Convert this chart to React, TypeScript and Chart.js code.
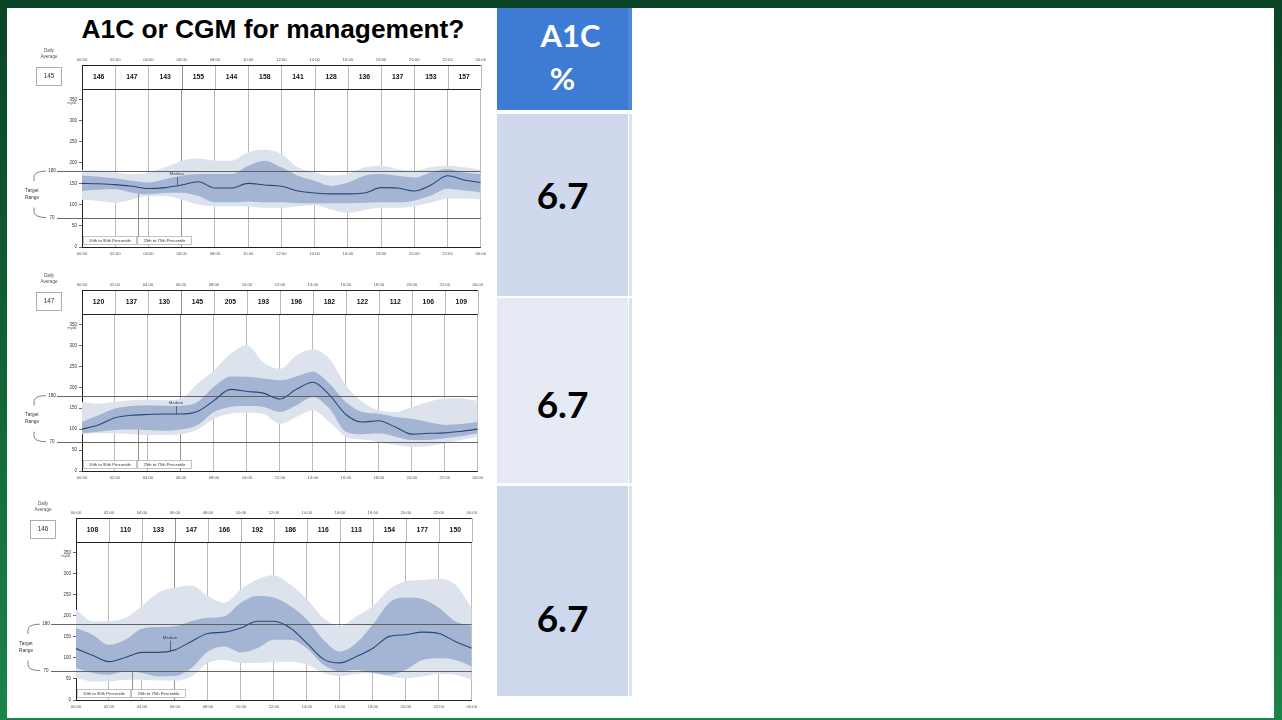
import React, { useEffect, useRef } from "react";
import { Chart, registerables } from "chart.js";

Chart.register(...registerables);

// ---------- data ----------
const HOURS = [0, 1, 2, 3, 4, 5, 6, 7, 8, 9, 10, 11, 12, 13, 14, 15, 16, 17, 18, 19, 20, 21, 22, 23, 24];
const TICK_HOURS = [0, 2, 4, 6, 8, 10, 12, 14, 16, 18, 20, 22, 24];
const TIME_LABELS = ["00:00", "02:00", "04:00", "06:00", "08:00", "10:00", "12:00", "14:00", "16:00", "18:00", "20:00", "22:00", "00:00"];
const Y_TICKS = [0, 50, 100, 150, 200, 250, 300, 350];
const TARGET_LOW = 70;
const TARGET_HIGH = 180;
const Y_MAX = 375;

const A1C_VALUES = ["6.7", "6.7", "6.7"];

// Profile 1
const C1_DAILY_AVG = 145;
const C1_BIN_AVG = [146, 147, 143, 155, 144, 158, 141, 128, 136, 137, 153, 157];
const C1_P90 = [183, 181, 177, 173, 177, 189, 205, 210, 205, 205, 225, 231, 221, 189, 177, 169, 173, 189, 193, 185, 181, 189, 193, 189, 183];
const C1_P75 = [169, 167, 163, 157, 153, 161, 169, 173, 173, 173, 193, 205, 189, 169, 157, 145, 153, 169, 173, 169, 165, 177, 185, 177, 173];
const C1_P50 = [151, 150, 148, 144, 139, 141, 147, 155, 140, 140, 151, 147, 144, 133, 128, 126, 126, 128, 141, 140, 133, 147, 169, 159, 153];
const C1_P25 = [133, 136, 137, 129, 125, 128, 129, 121, 106, 106, 108, 106, 106, 104, 104, 104, 104, 105, 106, 106, 110, 122, 138, 134, 130];
const C1_P10 = [112, 109, 105, 113, 121, 121, 113, 101, 97, 97, 96, 93, 93, 97, 99, 89, 81, 88, 93, 93, 97, 105, 115, 115, 113];

// Profile 2
const C2_DAILY_AVG = 147;
const C2_BIN_AVG = [120, 137, 130, 145, 205, 193, 196, 182, 122, 112, 106, 109];
const C2_P90 = [165, 161, 165, 169, 171, 169, 173, 209, 240, 280, 300, 260, 244, 276, 290, 268, 205, 165, 145, 141, 153, 165, 173, 173, 167];
const C2_P75 = [117, 133, 149, 155, 157, 156, 156, 165, 201, 226, 225, 221, 217, 226, 237, 209, 165, 141, 137, 129, 125, 117, 110, 112, 117];
const C2_P50 = [100, 110, 127, 133, 135, 136, 136, 142, 168, 195, 190, 186, 172, 195, 212, 182, 135, 117, 120, 105, 88, 90, 91, 95, 100];
const C2_P25 = [91, 94, 98, 99, 98, 96, 99, 110, 141, 153, 155, 153, 141, 157, 177, 149, 94, 88, 90, 82, 74, 74, 78, 83, 90];
const C2_P10 = [88, 90, 90, 88, 86, 86, 88, 99, 125, 137, 139, 136, 113, 129, 145, 117, 82, 75, 70, 62, 58, 60, 66, 74, 82];

// Profile 3
const C3_DAILY_AVG = 146;
const C3_BIN_AVG = [108, 110, 133, 147, 166, 192, 186, 116, 113, 154, 177, 150];
const C3_P90 = [215, 187, 187, 195, 223, 255, 267, 272, 247, 231, 263, 286, 296, 274, 239, 195, 175, 199, 223, 263, 282, 285, 288, 274, 219];
const C3_P75 = [171, 155, 131, 143, 169, 173, 175, 187, 195, 199, 231, 247, 243, 223, 191, 143, 115, 135, 179, 231, 243, 240, 219, 187, 175];
const C3_P50 = [122, 106, 91, 101, 113, 113, 119, 139, 158, 161, 171, 187, 187, 171, 135, 97, 88, 103, 123, 151, 155, 161, 158, 139, 123];
const C3_P25 = [76, 64, 60, 68, 64, 56, 57, 76, 115, 127, 113, 123, 143, 143, 123, 84, 68, 72, 64, 60, 72, 95, 99, 95, 80];
const C3_P10 = [52, 44, 44, 48, 48, 46, 46, 56, 88, 95, 88, 88, 91, 91, 84, 64, 57, 62, 64, 56, 52, 56, 62, 60, 48];

const MEDIAN_LABEL_HOUR = 5.7;

// ---------- styles ----------
const OUTER = "#dde3ed";
const INNER = "#a3b5d3";
const MEDIAN = "#284778";
const FONT = "'Liberation Sans', Arial, sans-serif";

const PAD_L = 62;
const PAD_R = 7;
const PAD_T = 44;
const PAD_B = 18;
const Y_AXIS_W = 20;
const X_AXIS_H = 12;

function interp(arr: number[], h: number) {
  const i = Math.floor(h);
  const f = h - i;
  if (i >= arr.length - 1) return arr[arr.length - 1];
  return arr[i] * (1 - f) + arr[i + 1] * f;
}

type AGPProps = {
  plotLeft: number;
  plotTop: number;
  plotW: number;
  plotH: number;
  dailyAvg: number;
  binAvg: number[];
  p10: number[];
  p25: number[];
  p50: number[];
  p75: number[];
  p90: number[];
  medianLabelValue: number;
};

function AGPChart(props: AGPProps) {
  const ref = useRef<HTMLCanvasElement | null>(null);
  const W = props.plotW + PAD_L + PAD_R;
  const H = props.plotH + PAD_T + PAD_B;

  useEffect(() => {
    if (!ref.current) return;
    const pts = (arr: number[]) => HOURS.map((h, i) => ({ x: h, y: arr[i] }));
    const band = (arr: number[], fill: any, color: string, order: number) => ({
      data: pts(arr),
      fill,
      order,
      backgroundColor: color,
      borderWidth: 0,
      borderColor: "rgba(0,0,0,0)",
      pointRadius: 0,
      cubicInterpolationMode: "monotone" as const,
    });

    const overlay = {
      id: "agpOverlay",
      afterDatasetsDraw(chart: any) {
        const ctx: CanvasRenderingContext2D = chart.ctx;
        const { left, right, top, bottom } = chart.chartArea;
        const xs = chart.scales.x;
        const ys = chart.scales.y;
        ctx.save();

        // target range lines
        ctx.strokeStyle = "#555";
        ctx.lineWidth = 0.9;
        [TARGET_HIGH, TARGET_LOW].forEach((v) => {
          const y = Math.round(ys.getPixelForValue(v)) + 0.5;
          ctx.beginPath();
          ctx.moveTo(left - 25, y);
          ctx.lineTo(right, y);
          ctx.stroke();
        });
        const yH = ys.getPixelForValue(TARGET_HIGH);
        const yL = ys.getPixelForValue(TARGET_LOW);
        ctx.fillStyle = "#333";
        ctx.font = `4.5px ${FONT}`;
        ctx.textAlign = "center";
        ctx.textBaseline = "middle";
        ctx.fillText(String(TARGET_HIGH), left - 30, yH);
        ctx.fillText(String(TARGET_LOW), left - 30, yL);
        // bracket
        ctx.strokeStyle = "#666";
        ctx.lineWidth = 0.8;
        ctx.beginPath();
        ctx.moveTo(left - 36, yH);
        ctx.quadraticCurveTo(left - 48, yH, left - 48, yH + 6);
        ctx.lineTo(left - 48, yH + 10);
        ctx.moveTo(left - 48, yL - 10);
        ctx.lineTo(left - 48, yL - 6);
        ctx.quadraticCurveTo(left - 48, yL, left - 36, yL);
        ctx.stroke();
        const mid = (yH + yL) / 2;
        ctx.font = `4.8px ${FONT}`;
        ctx.fillText("Target", left - 50, mid - 3.5);
        ctx.fillText("Range", left - 50, mid + 3.5);

        // table
        const tTop = top - 24;
        ctx.lineWidth = 0.8;
        TICK_HOURS.forEach((h) => {
          const x = Math.round(xs.getPixelForValue(h)) + 0.5;
          ctx.strokeStyle = h === 6 ? "#777" : "#aaa";
          ctx.beginPath();
          ctx.moveTo(x, tTop);
          ctx.lineTo(x, top);
          ctx.stroke();
        });
        ctx.strokeStyle = "#222";
        ctx.lineWidth = 1;
        ctx.beginPath();
        ctx.moveTo(left, Math.round(tTop) + 0.5);
        ctx.lineTo(right, Math.round(tTop) + 0.5);
        ctx.moveTo(left, Math.round(top) + 0.5);
        ctx.lineTo(right, Math.round(top) + 0.5);
        ctx.moveTo(Math.round(left) + 0.5, tTop);
        ctx.lineTo(Math.round(left) + 0.5, top);
        ctx.stroke();
        ctx.fillStyle = "#111";
        ctx.font = `bold 6.8px ${FONT}`;
        props.binAvg.forEach((v, i) => {
          ctx.fillText(String(v), xs.getPixelForValue(i * 2 + 1), top - 12);
        });
        // top time labels
        ctx.fillStyle = "#555";
        ctx.font = `4.2px ${FONT}`;
        TICK_HOURS.forEach((h, i) => {
          ctx.fillText(TIME_LABELS[i], xs.getPixelForValue(h), top - 29);
        });
        // daily average
        ctx.fillStyle = "#555";
        ctx.font = `4.6px ${FONT}`;
        ctx.fillText("Daily", left - 33, top - 38);
        ctx.fillText("Average", left - 33, top - 32);
        ctx.strokeStyle = "#999";
        ctx.lineWidth = 0.8;
        ctx.strokeRect(left - 45.5, top - 21.5, 25, 18);
        ctx.fillStyle = "#333";
        ctx.font = `6.4px ${FONT}`;
        ctx.fillText(String(props.dailyAvg), left - 33, top - 12.5);
        // units
        ctx.font = `3.4px ${FONT}`;
        ctx.fillStyle = "#555";
        ctx.textAlign = "right";
        ctx.fillText("mg/dL", left - 5, ys.getPixelForValue(350) + 4);

        // legend boxes
        ctx.textAlign = "center";
        ctx.fillStyle = "#fff";
        ctx.strokeStyle = "#aaa";
        ctx.lineWidth = 0.7;
        const bTop = bottom - 10.5;
        ctx.fillRect(left + 1.5, bTop, 53, 8);
        ctx.strokeRect(left + 1.5, bTop, 53, 8);
        ctx.fillRect(left + 55.5, bTop, 54, 8);
        ctx.strokeRect(left + 55.5, bTop, 54, 8);
        ctx.fillStyle = "#333";
        ctx.font = `4.2px ${FONT}`;
        ctx.fillText("10th to 90th Percentile", left + 28, bTop + 4.2);
        ctx.fillText("25th to 75th Percentile", left + 82.5, bTop + 4.2);
        // 25-75 leader
        const lx = left + 56;
        const lh = xs.getValueForPixel(lx);
        ctx.strokeStyle = "#777";
        ctx.lineWidth = 0.8;
        ctx.beginPath();
        ctx.moveTo(Math.round(lx) + 0.5, bTop);
        ctx.lineTo(Math.round(lx) + 0.5, ys.getPixelForValue(interp(props.p25, lh)));
        ctx.stroke();

        // median label
        const mx = xs.getPixelForValue(MEDIAN_LABEL_HOUR);
        const my = ys.getPixelForValue(props.medianLabelValue);
        ctx.fillStyle = "#345";
        ctx.font = `4.4px ${FONT}`;
        ctx.fillText("Median", mx, my);
        ctx.strokeStyle = "#345";
        ctx.lineWidth = 0.7;
        ctx.beginPath();
        ctx.moveTo(Math.round(mx) + 0.5, my + 3);
        ctx.lineTo(Math.round(mx) + 0.5, ys.getPixelForValue(interp(props.p50, MEDIAN_LABEL_HOUR)));
        ctx.stroke();

        ctx.restore();
      },
    };

    const chart = new Chart(ref.current, {
      type: "line",
      data: {
        datasets: [
          band(props.p90, "+1", OUTER, 3),
          band(props.p10, false, OUTER, 3),
          band(props.p75, "+1", INNER, 2),
          band(props.p25, false, INNER, 2),
          {
            data: pts(props.p50),
            fill: false,
            order: 1,
            borderColor: MEDIAN,
            borderWidth: 1.1,
            pointRadius: 0,
            cubicInterpolationMode: "monotone" as const,
          },
        ],
      },
      options: {
        animation: false,
        responsive: false,
        maintainAspectRatio: false,
        events: [],
        layout: {
          padding: {
            left: PAD_L - Y_AXIS_W,
            right: PAD_R,
            top: PAD_T,
            bottom: PAD_B - X_AXIS_H,
          },
        },
        plugins: { legend: { display: false }, tooltip: { enabled: false } },
        scales: {
          x: {
            type: "linear",
            min: 0,
            max: 24,
            afterBuildTicks: (s: any) => {
              s.ticks = TICK_HOURS.map((v) => ({ value: v }));
            },
            afterFit: (s: any) => {
              s.height = X_AXIS_H;
            },
            ticks: {
              autoSkip: false,
              maxRotation: 0,
              padding: 4,
              color: "#555",
              font: { size: 4.2, family: FONT },
              callback: (v: any) => TIME_LABELS[TICK_HOURS.indexOf(Number(v))],
            },
            grid: {
              drawTicks: false,
              lineWidth: 0.8,
              color: (c: any) => (c.tick && c.tick.value === 6 ? "#777" : "#aaa"),
            },
            border: { display: true, color: "#222", width: 1 },
          },
          y: {
            type: "linear",
            min: 0,
            max: Y_MAX,
            afterBuildTicks: (s: any) => {
              s.ticks = Y_TICKS.map((v) => ({ value: v }));
            },
            afterFit: (s: any) => {
              s.width = Y_AXIS_W;
            },
            ticks: {
              padding: 2,
              color: "#333",
              font: { size: 4.5, family: FONT },
            },
            grid: {
              drawOnChartArea: false,
              drawTicks: true,
              tickLength: 3,
              color: "#444",
              lineWidth: 0.8,
            },
            border: { display: true, color: "#222", width: 1 },
          },
        },
      },
      plugins: [overlay],
    });
    return () => chart.destroy();
  }, []);

  return (
    <canvas
      ref={ref}
      width={W}
      height={H}
      style={{
        position: "absolute",
        left: props.plotLeft - PAD_L,
        top: props.plotTop - PAD_T,
        width: W,
        height: H,
      }}
    />
  );
}

const cellText: React.CSSProperties = {
  position: "absolute",
  left: 497,
  width: 131,
  textAlign: "center",
  fontFamily: "Lato, 'Open Sans', sans-serif",
  fontWeight: 700,
  whiteSpace: "nowrap",
};

export default function App() {
  const cells = [
    { top: 114, h: 182, bg: "#cfd8ec", textTop: 176 },
    { top: 298, h: 185, bg: "#e5eaf5", textTop: 385 },
    { top: 486, h: 210, bg: "#ced8ec", textTop: 599 },
  ];
  return (
    <div
      style={{
        position: "fixed",
        left: 0,
        top: 0,
        width: 1282,
        height: 720,
        overflow: "hidden",
        background: "linear-gradient(180deg, #0a4426 0%, #0f5c33 40%, #1a8548 100%)",
      }}
    >
      <div style={{ position: "absolute", left: 7, top: 8, width: 1267, height: 710, background: "#ffffff" }} />
      <div
        style={{
          position: "absolute",
          left: 60,
          width: 426,
          top: 16,
          textAlign: "center",
          fontFamily: "'Liberation Sans', Arial, sans-serif",
          fontWeight: 700,
          fontSize: 26.3,
          lineHeight: "26px",
          color: "#000",
          whiteSpace: "nowrap",
        }}
      >
        A1C or CGM for management?
      </div>

      <AGPChart plotLeft={82} plotTop={89} plotW={401} plotH={158} dailyAvg={C1_DAILY_AVG} binAvg={C1_BIN_AVG}
        p10={C1_P10} p25={C1_P25} p50={C1_P50} p75={C1_P75} p90={C1_P90} medianLabelValue={173} />
      <AGPChart plotLeft={82} plotTop={314} plotW={398} plotH={157} dailyAvg={C2_DAILY_AVG} binAvg={C2_BIN_AVG}
        p10={C2_P10} p25={C2_P25} p50={C2_P50} p75={C2_P75} p90={C2_P90} medianLabelValue={162} />
      <AGPChart plotLeft={76} plotTop={542} plotW={398} plotH={158} dailyAvg={C3_DAILY_AVG} binAvg={C3_BIN_AVG}
        p10={C3_P10} p25={C3_P25} p50={C3_P50} p75={C3_P75} p90={C3_P90} medianLabelValue={148} />

      {/* A1C column */}
      <div style={{ position: "absolute", left: 497, top: 8, width: 131, height: 102, background: "#3e7bd5" }} />
      <div style={{ position: "absolute", left: 628, top: 8, width: 4, height: 102, background: "#4f86d6" }} />
      <div style={{ ...cellText, top: 20, paddingLeft: 16, width: 115, fontSize: 31, lineHeight: "31px", color: "#fff" }}>A1C</div>
      <div style={{ ...cellText, top: 63, fontSize: 31, lineHeight: "31px", color: "#fff" }}>%</div>
      {cells.map((c, i) => (
        <React.Fragment key={i}>
          <div style={{ position: "absolute", left: 497, top: c.top, width: 131, height: c.h, background: c.bg }} />
          <div style={{ position: "absolute", left: 629, top: c.top, width: 3, height: c.h, background: "#dde2ee" }} />
          <div style={{ ...cellText, top: c.textTop, fontSize: 37, lineHeight: "37px", color: "#000" }}>{A1C_VALUES[i]}</div>
        </React.Fragment>
      ))}
    </div>
  );
}
